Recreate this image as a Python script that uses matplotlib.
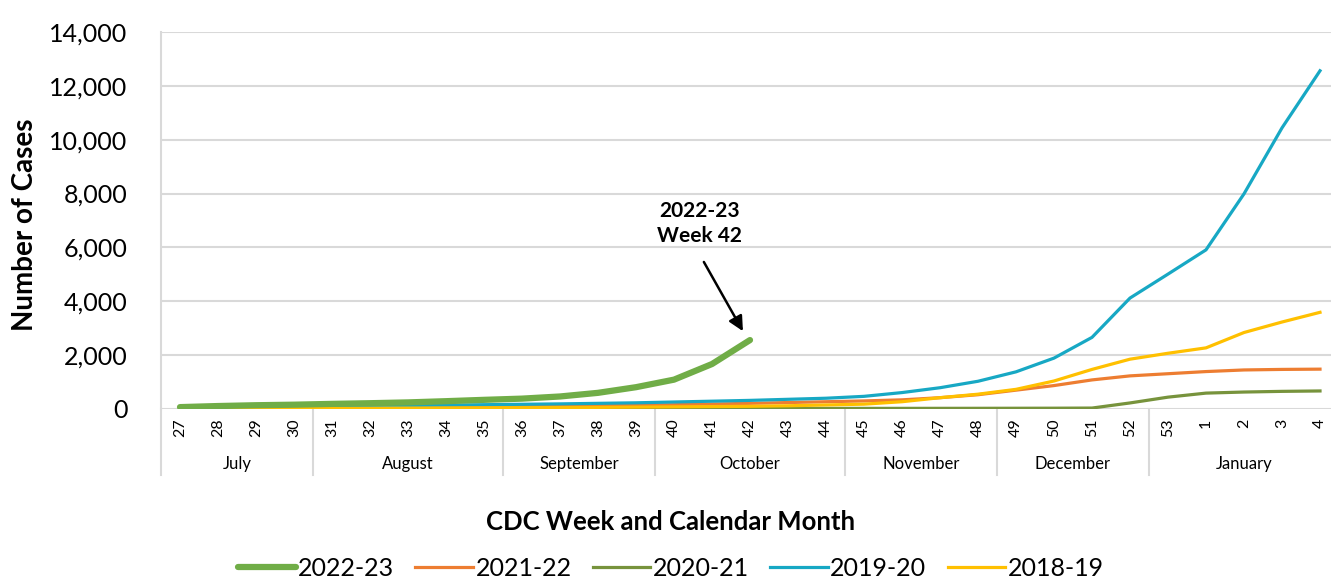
import numpy as np
import matplotlib.pyplot as plt

plt.rcParams['font.family'] = ['Lato', 'DejaVu Sans']

# semanas CDC (jul -> jan)
weeks = [str(w) for w in range(27, 54)] + ['1', '2', '3', '4']
months = ['July', 'August', 'September', 'October', 'November', 'December', 'January']
month_sizes = [4, 5, 4, 5, 4, 4, 5]

# casos acumulados por temporada
s2223 = [70, 110, 140, 160, 190, 215, 245, 290, 340, 385, 465, 600, 810, 1090, 1670, 2560]
s2122 = [10, 20, 30, 40, 50, 60, 70, 80, 90, 100, 110, 125, 140, 160, 185, 210, 240, 270,
         300, 340, 420, 530, 700, 870, 1080, 1230, 1310, 1390, 1450, 1470, 1480]
s2021 = [5, 6, 7, 8, 9, 10, 11, 12, 13, 14, 15, 16, 17, 18, 19, 20, 21, 22,
         23, 24, 25, 26, 28, 30, 35, 225, 440, 590, 630, 655, 670]
s1920 = [20, 40, 60, 80, 100, 115, 130, 145, 160, 175, 190, 210, 230, 260, 290, 320, 360, 400,
         470, 610, 790, 1030, 1380, 1890, 2660, 4120, 5010, 5910, 7990, 10440, 12560]
s1819 = [5, 10, 15, 20, 25, 30, 35, 40, 45, 50, 55, 60, 70, 80, 90, 100, 120, 150,
         180, 270, 420, 550, 730, 1040, 1470, 1850, 2070, 2270, 2840, 3230, 3590]

fig = plt.figure(figsize=(13.31, 5.82), dpi=100)
ax = fig.add_axes([161 / 1331, 173 / 582, 1178 / 1331, 377 / 582])

x = np.arange(len(weeks))
ax.plot(x, s2122, color='#ED7D31', lw=2.3, label='2021-22', zorder=3)
ax.plot(x, s2021, color='#77933C', lw=2.3, label='2020-21', zorder=3)
ax.plot(x, s1920, color='#17A8C4', lw=2.3, label='2019-20', zorder=3)
ax.plot(x, s1819, color='#FFC000', lw=2.3, label='2018-19', zorder=3)
ax.plot(x[:len(s2223)], s2223, color='#70AD47', lw=4.5, label='2022-23',
        solid_capstyle='round', zorder=4)

ax.set_xlim(-0.5, len(weeks) - 0.5)
ax.set_ylim(0, 14000)
ax.set_yticks(np.arange(0, 14001, 2000))
ax.set_yticklabels([f'{v:,}' for v in range(0, 14001, 2000)], fontsize=18)
ax.tick_params(axis='y', length=0, pad=24)
ax.grid(axis='y', color='#D9D9D9', lw=1.5)
ax.set_axisbelow(True)
for s in ['top', 'right', 'bottom']:
    ax.spines[s].set_visible(False)
ax.spines['left'].set_color('#D9D9D9')
ax.spines['left'].set_linewidth(1.5)

ax.set_xticks(x)
ax.set_xticklabels(weeks, rotation=90, fontsize=11.5)
ax.tick_params(axis='x', length=0, pad=7)

# separadores e rótulos dos meses
trans = ax.get_xaxis_transform()
edge = -0.5
ax.plot([edge, edge], [0, -0.175], transform=trans, color='#D9D9D9', lw=1.5, clip_on=False)
for m, n in zip(months, month_sizes):
    ax.text(edge + n / 2, -0.145, m, transform=trans, ha='center', va='center', fontsize=12)
    edge += n
    ax.plot([edge, edge], [0, -0.175], transform=trans, color='#D9D9D9', lw=1.5, clip_on=False)

ax.set_ylabel('Number of Cases', fontsize=20, fontweight='bold')
ax.yaxis.set_label_coords(-0.104, 0.49)
fig.text(0.5035, 0.103, 'CDC Week and Calendar Month', ha='center', va='center',
         fontsize=18.5, fontweight='bold')

# anotação semana 42
ax.text(13.68, 6900, '2022-23\nWeek 42', ha='center', va='center', fontsize=15,
        fontweight='bold', linespacing=1.3)
ax.annotate('', xy=(14.85, 2800), xytext=(13.75, 5550),
            arrowprops=dict(arrowstyle='-|>', color='black', lw=1.8, mutation_scale=22))

order = ['2022-23', '2021-22', '2020-21', '2019-20', '2018-19']
hs, ls = ax.get_legend_handles_labels()
hmap = dict(zip(ls, hs))
fig.legend([hmap[k] for k in order], order, loc='center', bbox_to_anchor=(0.504, 0.024),
           ncol=5, frameon=False, fontsize=18, handlelength=2.3, handletextpad=0.1,
           columnspacing=0.85)

fig.savefig('out.png', dpi=100)
